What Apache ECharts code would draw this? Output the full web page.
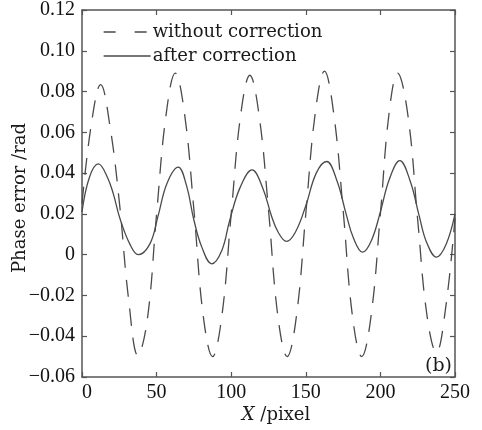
<!DOCTYPE html>
<html>
<head>
<meta charset="utf-8">
<script src="https://cdn.jsdelivr.net/npm/echarts@6/dist/echarts.min.js"></script>
<style>html,body{margin:0;padding:0;background:#fff}#c{width:482px;height:430px}</style>
</head>
<body>
<div id="c"></div>
<script>
// ---- data ----
var seriesNames = ['without correction', 'after correction'];
var xTicks = [0, 50, 100, 150, 200, 250];
var yTicks = [-0.06, -0.04, -0.02, 0, 0.02, 0.04, 0.06, 0.08, 0.10, 0.12];

var dashX = [0, 6.25, 12.5, 18.75, 25, 31.25, 37.5, 43.75, 50, 56.25, 62.5, 68.75, 75, 81.25, 87.5, 93.75, 100, 106.25, 112.5, 118.75, 125, 131.25, 137.5, 143.75, 150, 156.25, 162.5, 168.75, 175, 181.25, 187.5, 193.75, 200, 205.75, 211.5, 218.5, 225, 231.25, 237.5, 243.75, 250];
var dashY = [0.025, 0.064, 0.0834, 0.063, 0.026, -0.022, -0.0495, -0.032, 0.020, 0.068, 0.089, 0.069, 0.022, -0.030, -0.050, -0.030, 0.020, 0.068, 0.088, 0.068, 0.022, -0.030, -0.050, -0.030, 0.020, 0.069, 0.090, 0.069, 0.022, -0.030, -0.050, -0.030, 0.020, 0.069, 0.089, 0.068, 0.017, -0.030, -0.048, -0.026, 0.018];

var solidX = [0, 5, 11, 17, 21, 25.5, 32, 37.7, 45.5, 51, 57, 64.5, 70, 75, 80.3, 87, 93.7, 99, 106, 114, 121, 127, 131.5, 137, 143, 150, 157, 164, 171, 177, 182, 188, 194, 200, 206, 213, 220, 226, 231, 237.5, 244, 250];
var solidY = [0.021, 0.038, 0.0445, 0.038, 0.0298, 0.0176, 0.0053, 0.0, 0.0053, 0.019, 0.035, 0.0429, 0.034, 0.017, 0.0037, -0.0045, 0.002, 0.0168, 0.033, 0.0416, 0.033, 0.019, 0.011, 0.0065, 0.011, 0.024, 0.040, 0.0457, 0.036, 0.020, 0.008, 0.0012, 0.007, 0.021, 0.037, 0.0461, 0.036, 0.019, 0.006, -0.0012, 0.005, 0.020];

function pairs(xs, ys) { return xs.map(function (x, i) { return [x, ys[i]]; }); }

var lineColor = '#4a4a4a';
var axisColor = '#555';
var tickFont = 'Liberation Serif';
var textFont = 'DejaVu Serif';

function yFmt(v) {
  if (Math.abs(v) < 1e-9) return '0';
  var s = Math.abs(v).toFixed(2);
  return (v < 0 ? '\u2212' : '') + s;
}

var chart = echarts.init(document.getElementById('c'), null, { renderer: 'canvas' });
var baseX = { type: 'value', min: xTicks[0], max: xTicks[xTicks.length - 1], interval: 50,
  axisLine: { show: true, onZero: false, lineStyle: { color: axisColor, width: 1.5 } },
  axisTick: { show: true, inside: true, length: 5, lineStyle: { color: axisColor, width: 1.2 } },
  splitLine: { show: false } };
var baseY = { type: 'value', min: yTicks[0], max: yTicks[yTicks.length - 1], interval: 0.02,
  axisLine: { show: true, onZero: false, lineStyle: { color: axisColor, width: 1.5 } },
  axisTick: { show: true, inside: true, length: 5, lineStyle: { color: axisColor, width: 1.2 } },
  splitLine: { show: false } };

chart.setOption({
  animation: false,
  backgroundColor: '#fff',
  grid: { left: 82, right: 27, top: 9, bottom: 53, containLabel: false },
  legend: {
    orient: 'vertical', left: 103, top: 22, padding: 0, itemWidth: 47, itemHeight: 14, itemGap: 4,
    itemStyle: { opacity: 0, borderWidth: 0 },
    textStyle: { fontFamily: textFont, fontSize: 18, color: '#1a1a1a', padding: [0, 0, 0, -3], lineHeight: 20 },
    data: [
      { name: seriesNames[0], itemStyle: { opacity: 0 }, lineStyle: { type: [12, 19], width: 1.3, color: lineColor } },
      { name: seriesNames[1], itemStyle: { opacity: 0 }, lineStyle: { type: 'solid', width: 1.3, color: lineColor } }
    ]
  },
  xAxis: [
    Object.assign({}, baseX, { position: 'bottom',
      axisLabel: { show: true, margin: 6, fontFamily: tickFont, fontSize: 20, color: '#111', alignMinLabel: 'left' } }),
    Object.assign({}, baseX, { position: 'top', axisLabel: { show: false } })
  ],
  yAxis: [
    Object.assign({}, baseY, { position: 'left',
      axisLabel: { show: true, margin: 7, fontFamily: tickFont, fontSize: 20, color: '#111', formatter: yFmt } }),
    Object.assign({}, baseY, { position: 'right', axisLabel: { show: false } })
  ],
  series: [
    { name: seriesNames[0], type: 'line', smooth: 0.4, symbol: 'none', data: pairs(dashX, dashY),
      lineStyle: { color: lineColor, width: 1.3, type: [17, 12] }, itemStyle: { color: lineColor } },
    { name: seriesNames[1], type: 'line', smooth: 0.4, symbol: 'none', data: pairs(solidX, solidY),
      lineStyle: { color: lineColor, width: 1.3, type: 'solid' }, itemStyle: { color: lineColor } }
  ],
  graphic: [
    { type: 'text', x: 20, y: 198, rotation: Math.PI / 2,
      style: { text: 'Phase error /rad', font: '18px "DejaVu Serif"', fill: '#1a1a1a', align: 'center', verticalAlign: 'middle' } },
    { type: 'text', x: 276, y: 415,
      style: { text: '{i|X} /pixel', align: 'center', verticalAlign: 'middle', fill: '#1a1a1a',
        font: '18px "DejaVu Serif"',
        rich: { i: { fontFamily: textFont, fontStyle: 'italic', fontSize: 18, fill: '#1a1a1a' } } } },
    { type: 'text', x: 452, y: 366,
      style: { text: '(b)', font: '19px "DejaVu Serif"', fill: '#1a1a1a', align: 'right', verticalAlign: 'middle' } }
  ]
});
</script>
</body>
</html>
